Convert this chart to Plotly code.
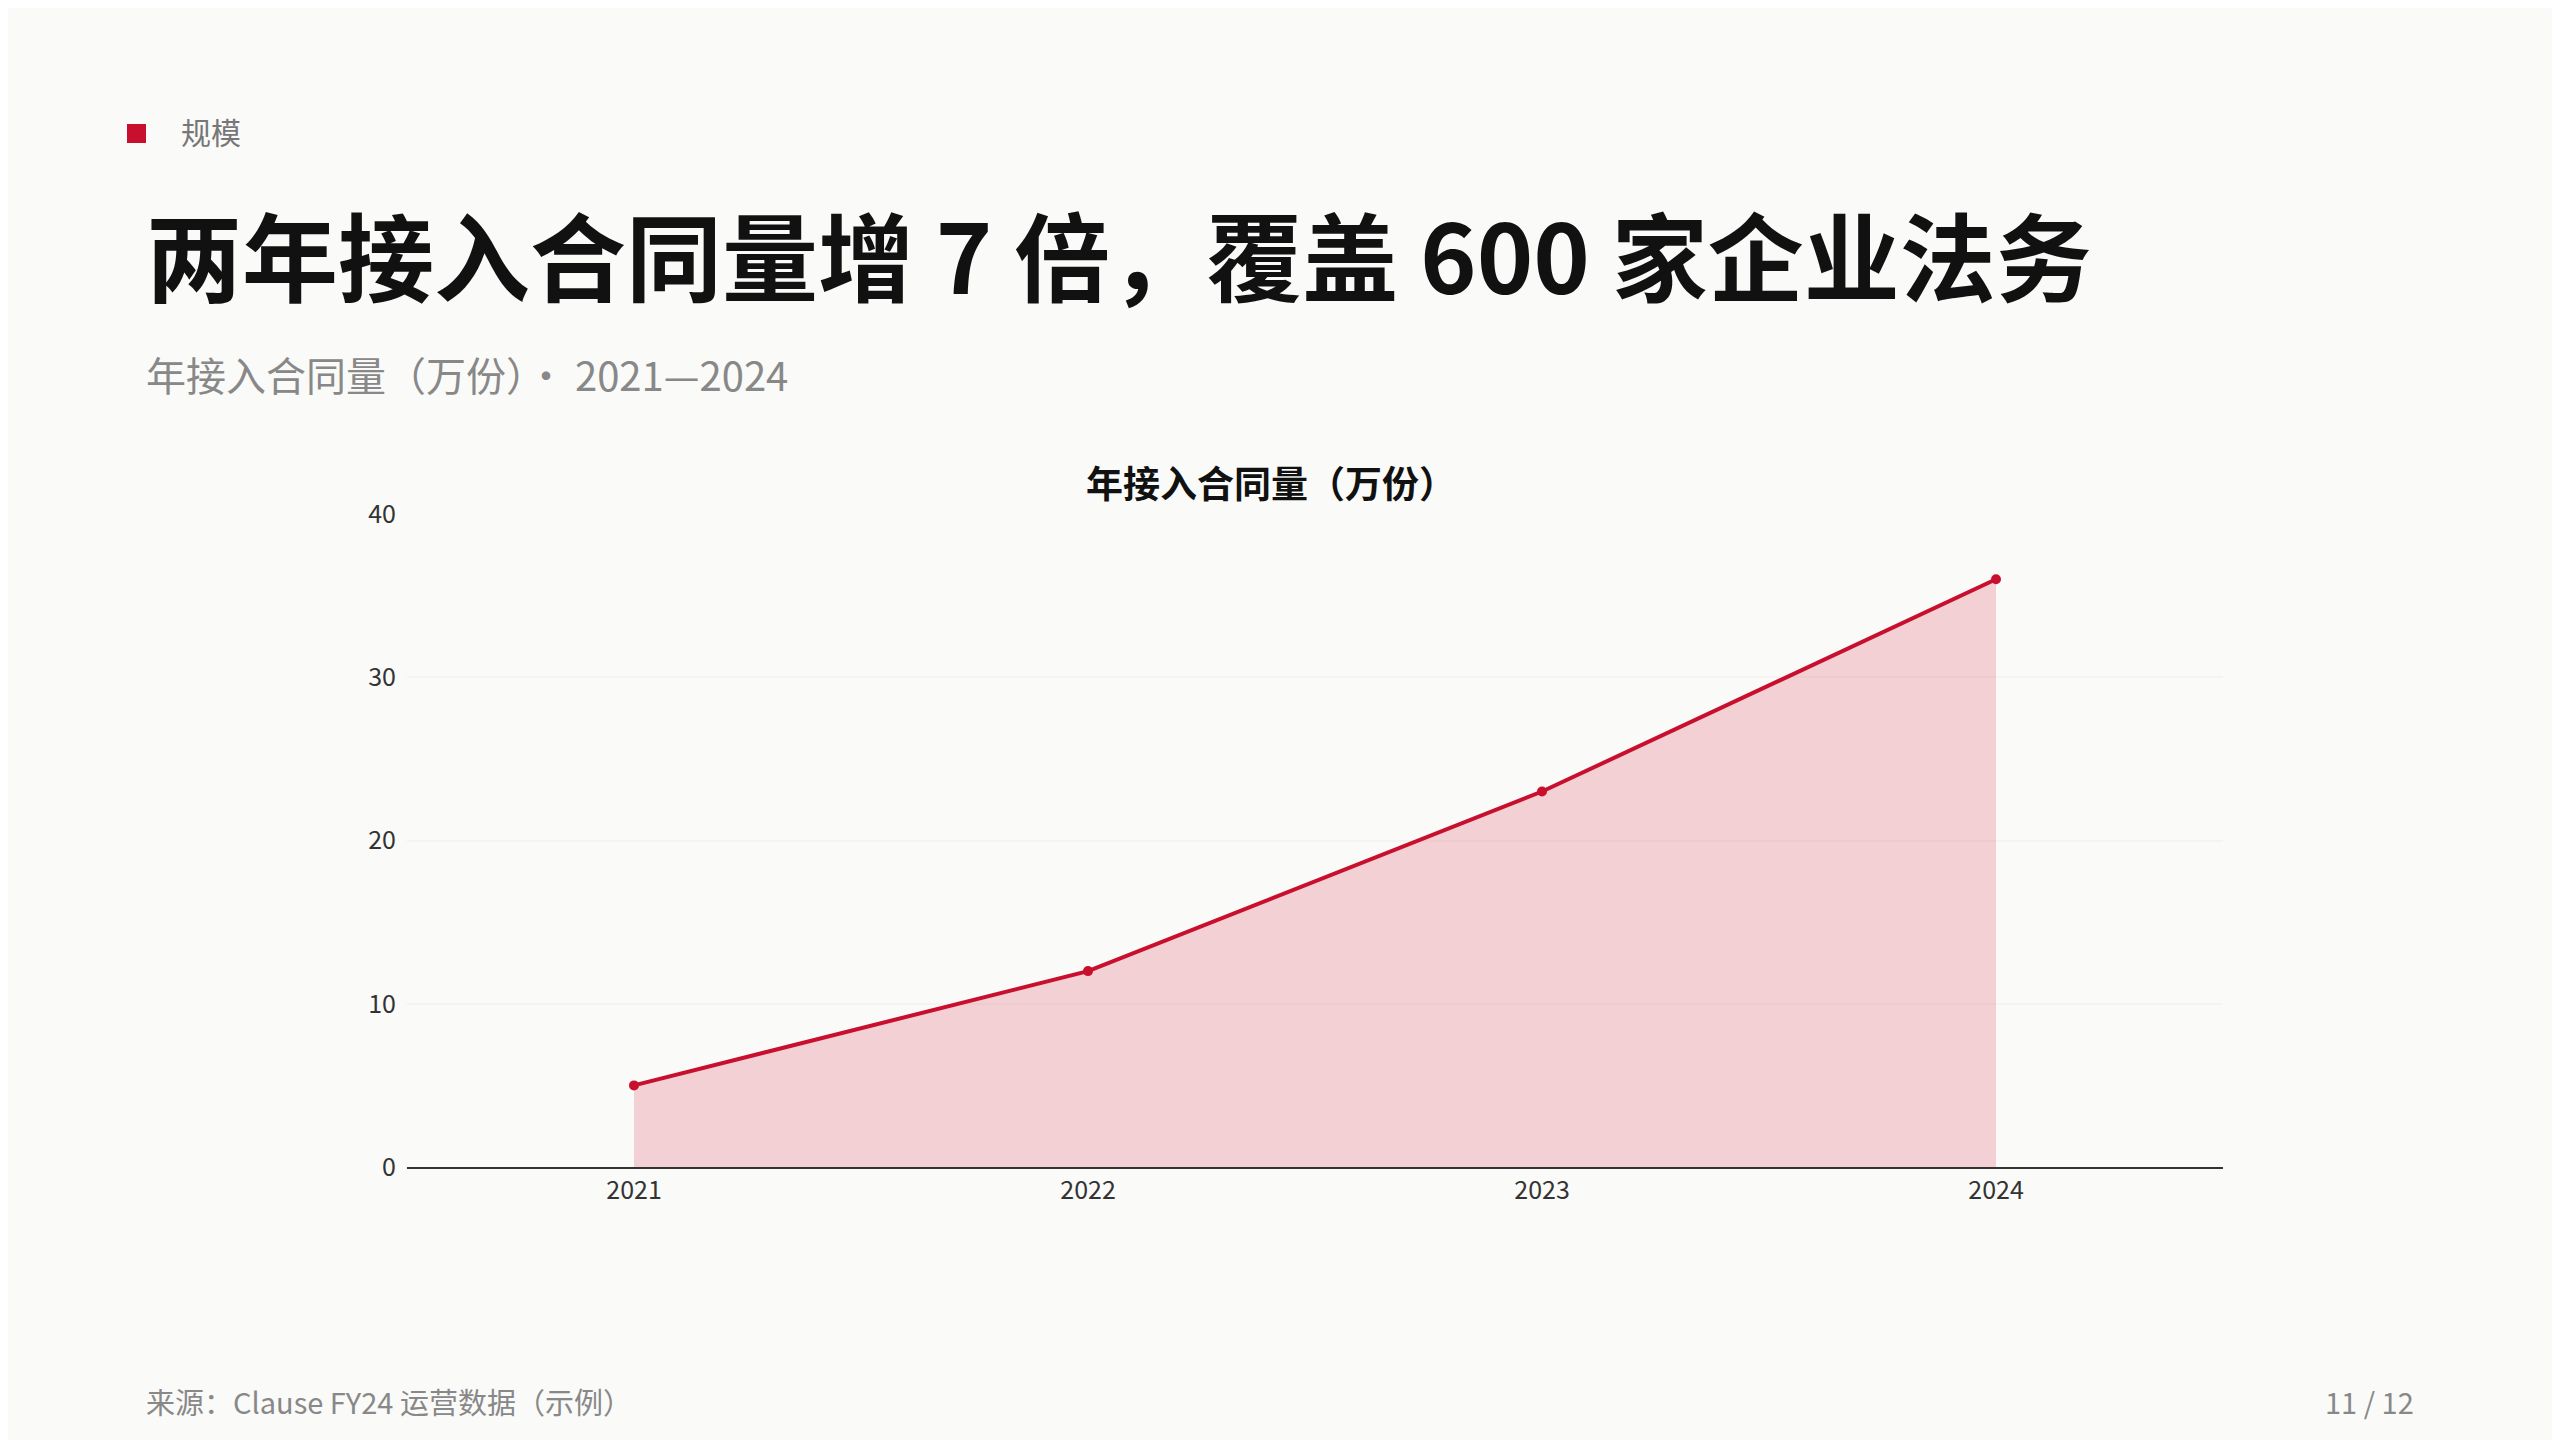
import plotly.graph_objects as go

years = ["2021", "2022", "2023", "2024"]
values = [5, 12, 23, 36]
yticks = [0, 10, 20, 30, 40]

W, H = 2560, 1440
DX, DY = -9, -8
L, R, T, B = 408 + DX, 2224 + DX, 514 + DY, 1167 + DY
def px(x): return (x + DX - L) / (R - L)
def py(y): return (B - (y + DY)) / (B - T)

FONT = "Noto Sans CJK SC"
fig = go.Figure()
fig.add_trace(go.Scatter(
    x=list(range(len(years))), y=values, mode="lines+markers",
    line=dict(color="#c8102e", width=4), marker=dict(size=10, color="#c8102e"),
    fill="tozeroy", fillcolor="rgba(214,40,70,0.2)", hoverinfo="skip"))

ann = []
def A(x, y, text, size, color, bold=False, xanchor="left"):
    ann.append(dict(x=px(x), y=py(y), xref="paper", yref="paper", text=f"<b>{text}</b>" if bold else text,
                    showarrow=False, xanchor=xanchor, yanchor="middle",
                    font=dict(family=FONT, size=size, color=color)))
A(180, 131, "规模", 30, "#777777")
A(145, 253, "两年接入合同量增 7 倍，覆盖 600 家企业法务", 96, "#111111", bold=True)
A(145, 374, "年接入合同量（万份）· 2021—2024", 40, "#888888")
A(1272, 482, "年接入合同量（万份）", 37, "#111111", bold=True, xanchor="center")
A(145, 1401, "来源：Clause FY24 运营数据（示例）", 29, "#888888")
A(2417, 1401, "11 / 12", 29, "#888888", xanchor="right")

fig.update_layout(
    width=W, height=H, paper_bgcolor="#fafaf8", plot_bgcolor="#fafaf8",
    margin=dict(l=L, r=W - R, t=T, b=H - B), showlegend=False, annotations=ann,
    shapes=[dict(type="rect", xref="paper", yref="paper", x0=px(128), x1=px(147), y0=py(124), y1=py(143),
                 fillcolor="#c8102e", line_width=0)],
    xaxis=dict(range=[-0.5, 3.5], tickvals=list(range(len(years))), ticktext=years, showgrid=False,
               zeroline=False, showline=True, linecolor="#333333", linewidth=2, ticks="",
               tickfont=dict(family=FONT, size=25, color="#333333")),
    yaxis=dict(range=[0, 40], tickvals=yticks, showgrid=True, gridcolor="#f4f4f2", gridwidth=2,
               zeroline=False, ticks="", ticklabelstandoff=10,
               tickfont=dict(family=FONT, size=25, color="#333333")),
)
fig.write_html("out.html")
